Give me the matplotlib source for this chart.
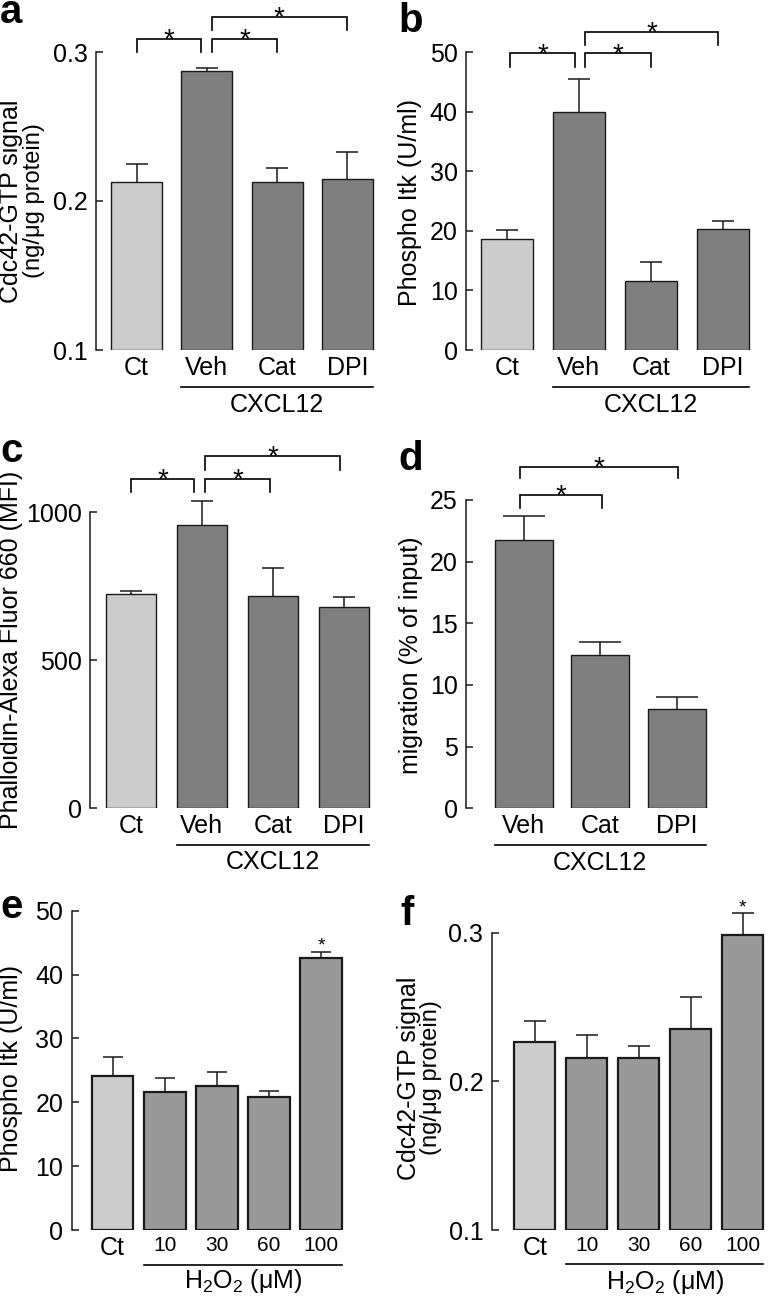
import numpy as np
import matplotlib
matplotlib.use('Agg')
import matplotlib.pyplot as plt

plt.rcParams['font.family'] = ['Liberation Sans', 'DejaVu Sans']
plt.rcParams['mathtext.fontset'] = 'custom'
plt.rcParams['mathtext.rm'] = 'Liberation Sans'
plt.rcParams['mathtext.it'] = 'Liberation Sans:italic'

# ---------------- data ----------------
a_labels = ['Ct', 'Veh', 'Cat', 'DPI']
a_vals = [0.213, 0.287, 0.213, 0.215]
a_err = [0.012, 0.002, 0.009, 0.018]

b_labels = ['Ct', 'Veh', 'Cat', 'DPI']
b_vals = [18.6, 40.0, 11.6, 20.4]
b_err = [1.55, 5.45, 3.1, 1.35]

c_labels = ['Ct', 'Veh', 'Cat', 'DPI']
c_vals = [723, 956, 718, 681]
c_err = [12, 82, 93, 34]

d_labels = ['Veh', 'Cat', 'DPI']
d_vals = [21.75, 12.45, 8.05]
d_err = [1.95, 1.05, 0.95]

e_labels = ['Ct', '10', '30', '60', '100']
e_vals = [24.1, 21.65, 22.55, 20.8, 42.6]
e_err = [3.0, 2.2, 2.25, 0.95, 1.0]

f_labels = ['Ct', '10', '30', '60', '100']
f_vals = [0.2265, 0.2155, 0.2155, 0.235, 0.2985]
f_err = [0.014, 0.016, 0.008, 0.022, 0.0145]

# ---------------- style ----------------
EDGE = '#1a1a1a'
C_CT = '#cccccc'
C_DK = '#7f7f7f'
C_MD = '#999999'
TICK_FS = 18
LAB_FS = 18
W, H = 770, 1296

fig = plt.figure(figsize=(W / 100, H / 100), dpi=100)


def make_axes(left, right, top, bottom):
    return fig.add_axes([left / W, 1 - bottom / H, (right - left) / W, (bottom - top) / H])


def draw_panel(box, first_px, step_px, labels, vals, errs, colors, ylim, yticks,
               yticklabels, width, edge_lw, capsize, group, group_text,
               line_off, text_off, tick_sizes, brackets=(), star_fs=20,
               single_star=None):
    left, right, top, bottom = box
    hpx = bottom - top
    ax = make_axes(*box)
    n = len(vals)
    x = np.arange(n)
    ax.set_xlim((left - first_px) / step_px, (right - first_px) / step_px)
    ax.set_ylim(*ylim)
    base = ylim[0]
    heights = [v - base for v in vals]
    ax.bar(x, heights, width=width, bottom=base, color=colors, edgecolor=EDGE,
           linewidth=edge_lw, zorder=2)
    eb = ax.errorbar(x, vals, yerr=[[0] * n, errs], fmt='none', ecolor=EDGE,
                     elinewidth=1.1, capsize=capsize, capthick=1.1, zorder=1)
    for cl in eb.lines[1]:
        if np.allclose(cl.get_ydata(), vals):
            cl.set_visible(False)
        cl.set_clip_on(False)
    for bl in eb.lines[2]:
        bl.set_clip_on(False)

    ax.set_xticks(x)
    ax.set_xticklabels(labels)
    for t, s in zip(ax.get_xticklabels(), tick_sizes):
        t.set_fontsize(s)
    ax.tick_params(axis='x', length=0, pad=4)
    ax.set_yticks(yticks)
    ax.set_yticklabels(yticklabels)
    ax.tick_params(axis='y', direction='in', length=5, width=1.1,
                   labelsize=TICK_FS, pad=6, color=EDGE)
    for s in ('top', 'right', 'bottom'):
        ax.spines[s].set_visible(False)
    ax.spines['left'].set_linewidth(1.1)
    ax.spines['left'].set_color(EDGE)
    ax.patch.set_visible(False)

    tr = ax.get_xaxis_transform()
    g0 = group[0] - width / 2
    g1 = group[1] + width / 2
    ax.plot([g0, g1], [-line_off / hpx] * 2, transform=tr, clip_on=False,
            color='black', lw=1.2)
    ax.text((group[0] + group[1]) / 2, -text_off / hpx, group_text, transform=tr,
            ha='center', va='center', fontsize=LAB_FS)

    for (x1, x2, yb, yt) in brackets:
        ax.plot([x1, x1, x2, x2], [yb, yt, yt, yb], color='black', lw=1.2,
                clip_on=False, solid_joinstyle='miter')
        ax.annotate('*', xy=((x1 + x2) / 2, yt), xytext=(0, -6),
                    textcoords='offset points', ha='center', va='baseline',
                    fontsize=star_fs, annotation_clip=False)
    if single_star is not None:
        i = single_star
        ax.annotate('*', xy=(i, vals[i] + errs[i]), xytext=(0, 1),
                    textcoords='offset points', ha='center', va='baseline',
                    fontsize=14, annotation_clip=False)
    return ax


def ylabel(x, y, text, fs=LAB_FS):
    fig.text(x / W, 1 - y / H, text, rotation=90, ha='center', va='center',
             fontsize=fs)


def panel_label(x, y, text):
    fig.text(x / W, 1 - y / H, text, ha='left', va='baseline', fontsize=29,
             fontweight='bold')


# ---------------- panel a ----------------
draw_panel((96, 385, 52, 350), 136.5, 70.33, a_labels, a_vals, a_err,
           [C_CT, C_DK, C_DK, C_DK], (0.1, 0.3), [0.1, 0.2, 0.3],
           ['0.1', '0.2', '0.3'], 0.725, 1.0, 8, (1, 3), 'CXCL12', 36.7, 55,
           [LAB_FS] * 4,
           brackets=[(0, 0.92, 0.300, 0.3087), (1.07, 2.0, 0.300, 0.3087),
                     (1.07, 2.99, 0.3148, 0.3235)])
ylabel(11.5, 201, 'Cdc42-GTP signal')
ylabel(34, 201, '(ng/\u03bcg protein)', fs=17)
panel_label(0, 23, 'a')

# ---------------- panel b ----------------
draw_panel((466, 765, 52.3, 350), 506.7, 72.03, b_labels, b_vals, b_err,
           [C_CT, C_DK, C_DK, C_DK], (0, 50), [0, 10, 20, 30, 40, 50],
           ['0', '10', '20', '30', '40', '50'], 0.72, 1.0, 8, (1, 3), 'CXCL12',
           37.3, 55, [LAB_FS] * 4,
           brackets=[(0.05, 0.95, 47.6, 49.8), (1.09, 2.0, 47.6, 49.8),
                     (1.09, 2.94, 51.2, 53.45)])
ylabel(410, 202, 'Phospho Itk (U/ml)')
panel_label(398, 32, 'b')

# ---------------- panel c ----------------
draw_panel((90, 385, 512.3, 808.3), 130.8, 71.07, c_labels, c_vals, c_err,
           [C_CT, C_DK, C_DK, C_DK], (0, 1000), [0, 500, 1000],
           ['0', '500', '1000'], 0.71, 1.0, 8, (1, 3), 'CXCL12', 36.7, 53.4,
           [LAB_FS] * 4,
           brackets=[(0, 0.89, 1067, 1112), (1.05, 1.96, 1067, 1112),
                     (1.05, 2.94, 1143, 1191)])
ylabel(11, 650, 'Phalloidin-Alexa Fluor 660 (MFI)')
panel_label(0, 462, 'c')

# ---------------- panel d ----------------
draw_panel((466, 730, 500, 808.3), 523.8, 76.5, d_labels, d_vals, d_err,
           [C_DK, C_DK, C_DK], (0, 25), [0, 5, 10, 15, 20, 25],
           ['0', '5', '10', '15', '20', '25'], 0.76, 1.0, 15, (0, 2), 'CXCL12',
           36.7, 54.7, [LAB_FS] * 3,
           brackets=[(-0.05, 1.02, 24.33, 25.4), (-0.05, 2.02, 26.76, 27.7)])
ylabel(411, 655, 'migration (% of input)')
panel_label(398, 470, 'd')

# ---------------- panel e ----------------
h2o2 = 'H$\\mathregular{_2}$O$\\mathregular{_2}$ (\u03bcM)'
draw_panel((71.7, 360, 910.7, 1230), 112.5, 52.2, e_labels, e_vals, e_err,
           [C_CT, C_MD, C_MD, C_MD, C_MD], (0, 50), [0, 10, 20, 30, 40, 50],
           ['0', '10', '20', '30', '40', '50'], 0.80, 1.6, 7.5, (1, 4), h2o2,
           35, 50.7, [LAB_FS] + [15] * 4, single_star=4)
ylabel(11, 1069, 'Phospho Itk (U/ml)')
panel_label(0, 918, 'e')

# ---------------- panel f ----------------
draw_panel((491.7, 770, 932.7, 1230), 534.7, 52.0, f_labels, f_vals, f_err,
           [C_CT, C_MD, C_MD, C_MD, C_MD], (0.1, 0.3), [0.1, 0.2, 0.3],
           ['0.1', '0.2', '0.3'], 0.79, 1.6, 8, (1, 4), h2o2,
           34.3, 51.7, [LAB_FS] + [15] * 4, single_star=4)
ylabel(409, 1078, 'Cdc42-GTP signal')
ylabel(431, 1078, '(ng/\u03bcg protein)', fs=17)
panel_label(400, 925, 'f')

fig.savefig('out.png', dpi=100)
